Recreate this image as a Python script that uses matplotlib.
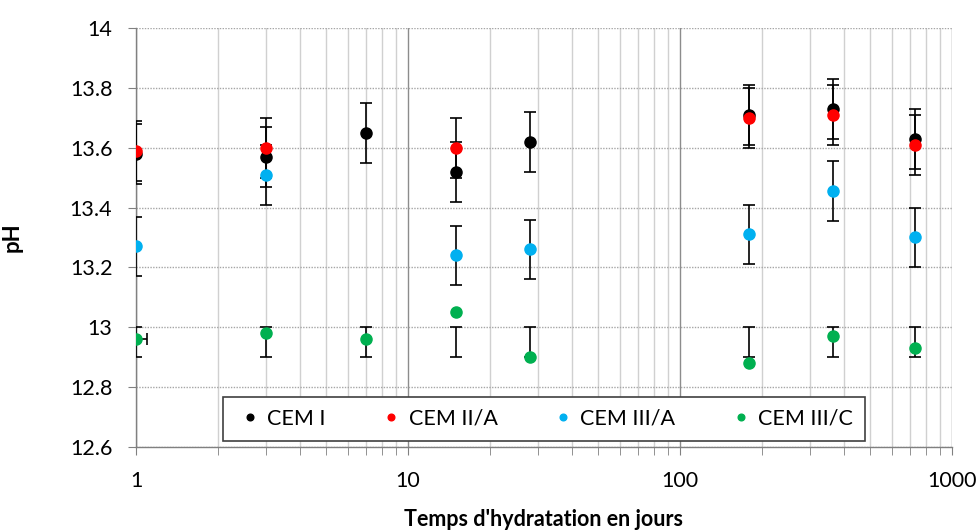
import matplotlib.pyplot as plt
import numpy as np
from matplotlib.ticker import FixedLocator, LogLocator, NullFormatter

plt.rcParams["font.family"] = ["Lato", "DejaVu Sans"]

# hydration time (days)
days = [1, 3, 7, 15, 28, 180, 365, 730]

# mean pH per cement, NaN where not measured
cem1 = [13.58, 13.57, 13.65, 13.52, 13.62, 13.71, 13.73, 13.63]
cem2a = [13.59, 13.60, np.nan, 13.60, np.nan, 13.70, 13.71, 13.61]
cem3a = [13.27, 13.51, np.nan, 13.24, 13.26, 13.31, 13.455, 13.30]
cem3c = [12.96, 12.98, 12.96, 13.05, 12.90, 12.88, 12.97, 12.93]

# spread on each point
err1 = [0.1] * 8
err2a = [0.1] * 8
err3a = [0.1] * 8
cem3c_lo = [12.90] * 8
cem3c_hi = [13.00] * 8
cem3c_xerr = [0.1, 0, 0, 0, 0, 0, 0, 0]

labels = ["CEM I", "CEM II/A", "CEM III/A", "CEM III/C"]
colors = ["#000000", "#FF0000", "#00B0F0", "#00B050"]


def draw_bars(ax, x, lo, hi):
    lo, hi = np.asarray(lo), np.asarray(hi)
    ax.errorbar(x, (lo + hi) / 2, yerr=(hi - lo) / 2, fmt="none",
                ecolor="black", elinewidth=1.2, capsize=4.3, capthick=1.2,
                zorder=3)


fig = plt.figure(figsize=(9.8, 5.31), dpi=100)
ax = fig.add_axes([0.1388, 0.1582, 0.8326, 0.7891])

x = np.array(days, dtype=float)
series = [cem1, cem2a, cem3a]
errs = [err1, err2a, err3a]
for vals, e in zip(series, errs):
    v = np.array(vals)
    ok = ~np.isnan(v)
    draw_bars(ax, x[ok], v[ok] - np.array(e)[ok], v[ok] + np.array(e)[ok])
draw_bars(ax, x, cem3c_lo, cem3c_hi)

# horizontal spread on the first CEM III/C point
xe = np.array(cem3c_xerr)
m = xe > 0
ax.errorbar(x[m], np.array(cem3c)[m], xerr=xe[m], fmt="none", ecolor="black",
            elinewidth=1.2, capsize=4.3, capthick=1.2, zorder=3)

for vals, lab, c in zip(series + [cem3c], labels, colors):
    ax.plot(x, vals, "o", color=c, markersize=8, label=lab, zorder=4,
            linestyle="none")

ax.set_xscale("log")
ax.set_xlim(1, 1000)
ax.set_ylim(12.6, 14)
ax.set_xticks([1, 10, 100, 1000])
ax.set_xticklabels(["1", "10", "100", "1000"])
ax.xaxis.set_minor_locator(LogLocator(base=10, subs=np.arange(2, 10)))
ax.xaxis.set_minor_formatter(NullFormatter())
yt = np.round(np.arange(12.6, 14.01, 0.2), 1)
ax.yaxis.set_major_locator(FixedLocator(yt))
ax.set_yticklabels([("%g" % v) for v in yt])

ax.grid(True, which="major", axis="x", color="#8c8c8c", linewidth=1.0)
ax.grid(True, which="minor", axis="x", color="#d0d0d0", linewidth=1.0)
ax.grid(True, which="major", axis="y", color="#a6a6a6", linewidth=1.0,
        linestyle=(0, (1, 1)))
ax.set_axisbelow(True)

for s in ["top", "right"]:
    ax.spines[s].set_visible(False)
for s in ["left", "bottom"]:
    ax.spines[s].set_color("#808080")
    ax.spines[s].set_linewidth(1.0)

ax.tick_params(axis="both", which="major", direction="out", length=6,
               color="#808080", labelsize=15.5, labelcolor="#000000")
ax.tick_params(axis="x", which="minor", direction="out", length=6,
               color="#808080")
ax.tick_params(axis="x", which="major", pad=11)
ax.tick_params(axis="y", which="major", pad=11)

ax.set_ylabel("pH", fontsize=16, fontweight="bold")
ax.yaxis.set_label_coords(-0.1385, 0.5)
ax.set_xlabel("Temps d'hydratation en jours", fontsize=15.5, fontweight="bold")
ax.xaxis.set_label_coords(0.5, -0.148)

leg = ax.legend(loc="center", bbox_to_anchor=(0.5, 0.067), ncol=4,
                fontsize=15.5, frameon=True, fancybox=False, markerscale=0.6,
                handletextpad=0.1, columnspacing=2.35, borderpad=0.55,
                handlelength=1.4)
leg.get_frame().set_edgecolor("#404040")
leg.get_frame().set_linewidth(1.2)
leg.get_frame().set_alpha(1)

fig.savefig("out.png", dpi=100)
